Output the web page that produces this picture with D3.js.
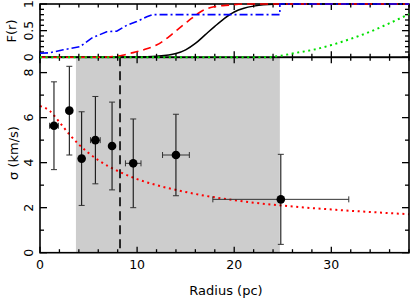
<!DOCTYPE html>
<html><head><meta charset="utf-8">
<script src="https://cdn.jsdelivr.net/npm/d3@7"></script>
<style>
body{margin:0;background:#fff}
svg{display:block}
text{font-family:"DejaVu Sans",Verdana,sans-serif;fill:#000}
</style>
</head><body>
<svg id="c" width="414" height="300"></svg>
<script>
// ---- data ----
const radius    = [1.44, 3.02, 4.29, 5.7, 7.42, 9.6, 14.0, 24.8];
const sigma     = [5.64, 6.31, 4.18, 5.0, 4.74, 3.97, 4.34, 2.37];
const radiusErr = [0.45, 0, 0, 0.5, 0, 0.8, 1.38, 7.0];
const sigmaErr  = [1.95, 1.97, 2.08, 1.94, 1.95, 1.97, 1.81, 2.0];

const modelR     = [0, 1, 2, 3, 4, 5, 6, 8, 10, 13, 16, 20, 25, 30, 38];
const modelSigma = [6.52, 6.30, 5.80, 5.27, 4.81, 4.43, 4.11, 3.63, 3.27, 2.89, 2.61, 2.33, 2.09, 1.92, 1.71];

const blueR  = [0, 1.03, 2.4, 4.12, 5.32, 6.87, 7.9, 8.93, 9.96, 11.0, 11.6, 24.7, 24.7, 38];
const blueF  = [0.075, 0.086, 0.14, 0.2, 0.36, 0.48, 0.49, 0.6, 0.67, 0.76, 0.8, 0.8, 1.0, 1.0];
const redR   = [0, 6, 7.2, 8.5, 9.3, 10.3, 11.0, 12.0, 12.8, 13.7, 14.7, 15.4, 16.1, 16.9, 18.0, 19.5, 21, 38];
const redF   = [0, 0, 0.01, 0.04, 0.075, 0.12, 0.16, 0.23, 0.32, 0.45, 0.6, 0.7, 0.8, 0.89, 0.95, 0.98, 1.0, 1.0];
const blackR = [0, 10, 12, 14, 15, 16, 17, 18, 19, 20, 21, 22, 23, 25, 38];
const blackF = [0, 0.005, 0.02, 0.07, 0.14, 0.26, 0.42, 0.58, 0.73, 0.85, 0.92, 0.96, 0.985, 1.0, 1.0];
const greenR = [0, 23.5, 24, 25, 26.1, 28.1, 30.0, 31.9, 34.0, 36.0, 38];
const greenF = [0, 0, 0.01, 0.035, 0.075, 0.14, 0.23, 0.34, 0.48, 0.64, 0.81];

const shadeRange = [3.7, 24.7];
const rHalf = 8.24;

const xTickLabels = [0, 10, 20, 30];
const yTickMain   = [0, 2, 4, 6, 8];
const yTickTop    = [0, 0.5, 1];
const yTickTopLbl = ["0", "0.5", "1"];

// ---- scales ----
const svg = d3.select("#c");
const x  = d3.scaleLinear().domain([0, 38]).range([40, 409]);
const yM = d3.scaleLinear().domain([0, 8.68]).range([252.7, 57.3]);
const yT = d3.scaleLinear().domain([0, 1]).range([57.3, 4]);

// ---- main panel ----
svg.append("rect")
  .attr("x", x(shadeRange[0])).attr("y", yM(8.68))
  .attr("width", x(shadeRange[1]) - x(shadeRange[0]))
  .attr("height", yM(0) - yM(8.68))
  .attr("fill", "#cdcdcd");

svg.append("line")
  .attr("x1", x(rHalf)).attr("x2", x(rHalf))
  .attr("y1", yM(8.68)).attr("y2", yM(0))
  .attr("stroke", "#000").attr("stroke-width", 1.6)
  .attr("stroke-dasharray", "9,5");

const lineM = d3.line().x(d => x(d[0])).y(d => yM(d[1])).curve(d3.curveMonotoneX);
svg.append("path")
  .datum(modelR.map((r, i) => [r, modelSigma[i]]))
  .attr("d", lineM).attr("fill", "none")
  .attr("stroke", "#ff0000").attr("stroke-width", 2)
  .attr("stroke-dasharray", "2,3.6");

const pts = radius.map((r, i) => ({r, s: sigma[i], ex: radiusErr[i], ey: sigmaErr[i]}));
const eb = svg.append("g").attr("stroke", "#000").attr("stroke-width", 1);
pts.forEach(p => {
  eb.append("line").attr("x1", x(p.r)).attr("x2", x(p.r))
    .attr("y1", yM(p.s - p.ey)).attr("y2", yM(p.s + p.ey));
  [p.s - p.ey, p.s + p.ey].forEach(v => {
    eb.append("line").attr("x1", x(p.r) - 3).attr("x2", x(p.r) + 3)
      .attr("y1", yM(v)).attr("y2", yM(v)).attr("stroke", "#333");
  });
  if (p.ex > 0) {
    eb.append("line").attr("x1", x(p.r - p.ex)).attr("x2", x(p.r + p.ex))
      .attr("y1", yM(p.s)).attr("y2", yM(p.s)).attr("stroke", "#333");
    [p.r - p.ex, p.r + p.ex].forEach(v => {
      eb.append("line").attr("x1", x(v)).attr("x2", x(v))
        .attr("y1", yM(p.s) - 3).attr("y2", yM(p.s) + 3).attr("stroke", "#333");
    });
  }
});
svg.append("g").selectAll("circle").data(pts).join("circle")
  .attr("cx", d => x(d.r)).attr("cy", d => yM(d.s)).attr("r", 4.3).attr("fill", "#000");

// ---- frames & ticks ----
function frame(y0, y1) {
  svg.append("rect").attr("x", 40).attr("y", y0).attr("width", 369).attr("height", y1 - y0)
    .attr("fill", "none").attr("stroke", "#000").attr("stroke-width", 1.6);
}
frame(yT(1), yT(0));
frame(yM(8.68), yM(0));

const tk = svg.append("g").attr("stroke", "#000").attr("stroke-width", 1.3);
function xTicks(yPos, dir) {
  d3.range(0, 38.01, 2).forEach(v => {
    const len = (v % 10 === 0) ? 6 : 3.5;
    tk.append("line").attr("x1", x(v)).attr("x2", x(v))
      .attr("y1", yPos).attr("y2", yPos + dir * len);
  });
}
xTicks(yT(1), 1); xTicks(yT(0), -1);
xTicks(yM(8.68), 1); xTicks(yM(0), -1);

function yTicks(scale, vals, isMajor) {
  vals.forEach(v => {
    const len = isMajor(v) ? 7 : 4;
    tk.append("line").attr("x1", 40).attr("x2", 40 + len).attr("y1", scale(v)).attr("y2", scale(v));
    tk.append("line").attr("x1", 409).attr("x2", 409 - len).attr("y1", scale(v)).attr("y2", scale(v));
  });
}
yTicks(yM, d3.range(0, 8.01, 1), v => v % 2 === 0);
yTicks(yT, d3.range(0, 1.001, 0.1).map(v => Math.round(v * 10) / 10), v => v === 0 || v === 0.5 || v === 1);

// ---- top panel curves (drawn over the frame, as in the reference) ----
const lineT = d3.line().x(d => x(d[0])).y(d => yT(d[1]));
function curve(R, F, color, dash, w, smooth) {
  const l = smooth ? lineT.curve(d3.curveMonotoneX) : lineT.curve(d3.curveLinear);
  svg.append("path").datum(R.map((r, i) => [r, F[i]]))
    .attr("d", l).attr("fill", "none").attr("stroke", color)
    .attr("stroke-width", w).attr("stroke-dasharray", dash);
}
curve(blackR, blackF, "#000000", null, 1.5, true);
curve(redR, redF, "#ff0000", "8,5", 1.6, true);
curve(blueR, blueF, "#0000ff", "8,3,2,3", 1.6, false);
curve(greenR, greenF, "#00e000", "2,3.6", 2, true);

// ---- labels ----
svg.append("g").selectAll("text").data(xTickLabels).join("text")
  .attr("x", d => x(d)).attr("y", 269).attr("text-anchor", "middle")
  .attr("font-size", 12.5).text(d => d);

svg.append("g").selectAll("text").data(yTickMain).join("text")
  .attr("transform", d => `translate(33,${yM(d)}) rotate(-90)`)
  .attr("text-anchor", "middle").attr("font-size", 12.5).text(d => d);

svg.append("g").selectAll("text").data(yTickTop).join("text")
  .attr("transform", (d, i) => `translate(33,${yT(d)}) rotate(-90)`)
  .attr("text-anchor", "middle").attr("font-size", 12.5).text((d, i) => yTickTopLbl[i]);

svg.append("text").attr("x", 226).attr("y", 295).attr("text-anchor", "middle")
  .attr("font-size", 13).text("Radius (pc)");
svg.append("text").attr("transform", "translate(18,153) rotate(-90)")
  .attr("text-anchor", "middle").attr("font-size", 13).text("σ (km/s)");
svg.append("text").attr("transform", "translate(16,31) rotate(-90)")
  .attr("text-anchor", "middle").attr("font-size", 13).text("F(r)");
</script>
</body></html>
